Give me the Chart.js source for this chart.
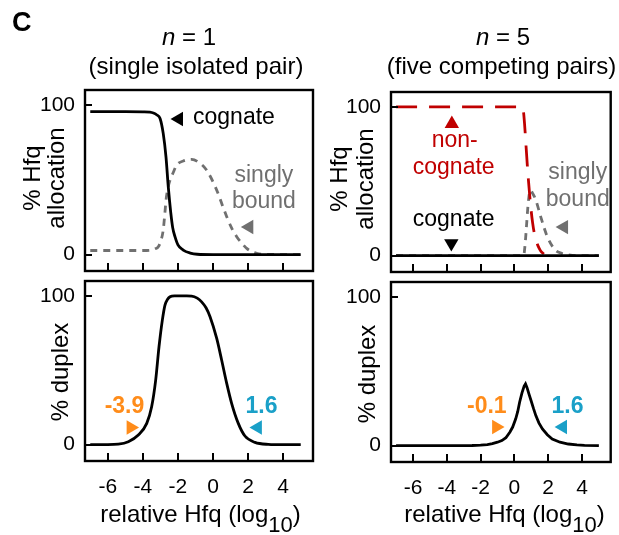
<!DOCTYPE html>
<html><head><meta charset="utf-8">
<script src="https://cdn.jsdelivr.net/npm/chart.js@4.4.0/dist/chart.umd.min.js"></script>
<style>
html,body{margin:0;padding:0;background:#fff;}
#wrap{position:relative;width:619px;height:535px;overflow:hidden;}
#wrap canvas{position:absolute;left:0;top:0;}
</style></head><body>
<div id="wrap">
<canvas id="tl" width="619" height="535"></canvas>
<canvas id="tr" width="619" height="535"></canvas>
<canvas id="bl" width="619" height="535"></canvas>
<canvas id="br" width="619" height="535"></canvas>
</div>
<script>
// ---------- tick labels ----------
const xTickValues = [-6, -4, -2, 0, 2, 4];
const yTickValues = [0, 100];

// ---------- n = 1 : % Hfq allocation ----------
const cognateX1 = [-7, -5, -4, -3.6, -3.4, -3.2, -3.02, -2.84, -2.68, -2.55, -2.41, -2.3, -2.17, -2.0, -1.7, -1.3, -0.9, 0, 2, 5];
const cognateY1 = [95.5, 95.5, 95.4, 95.2, 94.6, 93.3, 91, 81, 65, 45, 28, 18, 12, 6.5, 3, 1, 0.2, 0, 0, 0];
const singlyX1 = [-7, -5, -4, -3.5, -3.3, -3.12, -2.95, -2.84, -2.75, -2.68, -2.58, -2.45, -2.3, -2.07, -1.7, -1.22, -0.8, -0.37, 0.21, 0.5, 0.78, 1.05, 1.35, 1.65, 1.92, 2.2, 2.49, 3, 4, 5];
const singlyY1 = [2.7, 2.7, 2.7, 3.0, 3.8, 5.2, 10, 16.4, 27, 36.4, 44, 49.8, 54, 59.8, 62.5, 63.6, 61.5, 56.5, 43.1, 34, 25.3, 18, 11.9, 7.5, 4.1, 2, 0.8, 0.1, 0, 0];

// ---------- n = 5 : % Hfq allocation ----------
const nonCognateX5 = [-7, -4, -1, 0, 0.3, 0.45, 0.52, 0.6, 0.7, 0.8, 0.9, 0.99, 1.08, 1.18, 1.32, 1.47, 1.6, 1.75];
const nonCognateY5 = [100, 100, 100, 100, 100, 100, 98.5, 89, 72, 55.3, 41.5, 30.6, 22, 15, 9, 4.9, 2.5, 1.1];
const cognateX5 = [-7, 5];
const cognateY5 = [0, 0];
const singlyX5 = [-7, 0, 0.5, 0.57, 0.63, 0.7, 0.78, 0.86, 0.95, 1.05, 1.27, 1.56, 1.95, 2.42, 2.8, 3.19, 3.6, 5];
const singlyY5 = [0, 0, 0, 1, 7, 17, 30, 39.5, 44, 42.5, 37.4, 26.1, 12.7, 3.8, 1.5, 0.5, 0, 0];

// ---------- % duplex ----------
const duplexX1 = [-7, -6, -5.4, -4.83, -4.26, -3.78, -3.5, -3.27, -3.08, -2.89, -2.74, -2.6, -2.45, -2.2, -1.88, -1.5, -1.22, -0.9, -0.65, -0.4, -0.17, 0.21, 0.49, 0.78, 1.06, 1.44, 1.82, 2.39, 3.15, 4, 5];
const duplexY1 = [0, 0, 0.3, 2, 6.5, 14.3, 25.5, 43.4, 65.8, 83.7, 93.8, 97.5, 99.4, 100, 100, 100, 99.9, 98.5, 96, 92, 86, 71.4, 56.9, 41.2, 27.8, 14.3, 5.8, 1.5, 0.2, 0, 0];
const duplexX5 = [-7, -4, -2.5, -2, -1.6, -1.3, -1.0, -0.74, -0.5, -0.26, -0.1, 0.08, 0.2, 0.31, 0.45, 0.58, 0.66, 0.75, 0.87, 0.99, 1.13, 1.27, 1.45, 1.66, 1.95, 2.24, 2.7, 3.19, 3.7, 4.15, 5];
const duplexY5 = [0, 0, 0.1, 0.3, 0.7, 1.3, 2.3, 3.4, 5.3, 9.2, 12.5, 18, 23, 29.2, 35.5, 40, 41.5, 39, 34.5, 30.2, 25, 20.2, 15.3, 11.2, 7.3, 4.5, 2.3, 1.1, 0.5, 0.2, 0];

// ---------- annotation anchors (data units) ----------
const markTL_X = [-1.95, 2.06], markTL_Y = [90.6, 18.4];
const markTR_X = [-3.70, -3.73, 2.93], markTR_Y = [88.6, 8.3, 19.2];
const markBL_X = [-4.69, 2.55], markBL_Y = [11.5, 11.5];
const markBR_X = [-1.07, 2.87], markBR_Y = [12.5, 12.5];
const thresholdsBL = ['-3.9', '1.6'];
const thresholdsBR = ['-0.1', '1.6'];

// ---------- styling ----------
const FAM = "'Liberation Sans', Arial, Helvetica, sans-serif";
const W = 619, H = 535;
const BLACK = '#000000', GRAY = '#707070', RED = '#C00000', ORANGE = '#FF8C1A', BLUE = '#1AA0C8';
Chart.defaults.font.family = FAM;

const pts = (xs, ys) => xs.map((x, i) => ({x: x, y: ys[i]}));

function curve(xs, ys, color, dash, mono) {
  return {data: pts(xs, ys), borderColor: color, borderWidth: 2.8, borderDash: dash || [],
    pointRadius: 0, fill: false, cubicInterpolationMode: mono === false ? 'default' : 'monotone', tension: 0};
}
function markers(xs, ys, colors, rots) {
  return {data: pts(xs, ys), showLine: false, pointStyle: 'triangle', pointRadius: 8.3,
    pointRotation: rots, pointBackgroundColor: colors, pointBorderWidth: 0, pointBorderColor: colors};
}

function drawParts(ctx, parts, cx, y) {
  let total = 0;
  parts.forEach(p => { ctx.font = p.font; p.w = ctx.measureText(p.t).width; total += p.w; });
  let x = cx - total / 2;
  ctx.textAlign = 'left';
  parts.forEach(p => { ctx.font = p.font; ctx.fillText(p.t, x, y + (p.dy || 0)); x += p.w; });
}

const decoPlugin = {
  id: 'deco',
  afterDraw(chart, args, o) {
    const ctx = chart.ctx, a = chart.chartArea, xs = chart.scales.x, ys = chart.scales.y;
    ctx.save();
    ctx.strokeStyle = '#000'; ctx.lineWidth = 2.4;
    ctx.strokeRect(a.left, a.top, a.right - a.left, a.bottom - a.top);
    ctx.lineWidth = 2;
    ctx.beginPath();
    xs.ticks.forEach(t => { const p = Math.round(xs.getPixelForValue(t.value)); ctx.moveTo(p, a.bottom); ctx.lineTo(p, a.bottom - 8); });
    ys.ticks.forEach(t => { const p = Math.round(ys.getPixelForValue(t.value)); ctx.moveTo(a.left, p); ctx.lineTo(a.left + 7, p); });
    ctx.stroke();

    ctx.fillStyle = '#000';
    ctx.textBaseline = 'middle';
    if (o.letter) { ctx.font = 'bold 27px ' + FAM; ctx.textAlign = 'left'; ctx.fillText(o.letter.t, o.letter.x, o.letter.y); }
    (o.title || []).forEach(l => drawParts(ctx, l.parts, l.x, l.y));
    (o.yTitle || []).forEach(l => {
      ctx.save(); ctx.translate(l.x, l.y); ctx.rotate(-Math.PI / 2);
      ctx.font = '24px ' + FAM; ctx.textAlign = 'center'; ctx.fillText(l.t, 0, 0); ctx.restore();
    });
    if (o.xTitle) {
      ctx.textBaseline = 'alphabetic';
      drawParts(ctx, [
        {t: 'relative Hfq (log', font: '24px ' + FAM},
        {t: '10', font: '22px ' + FAM, dy: 10},
        {t: ')', font: '24px ' + FAM}
      ], o.xTitle.x, o.xTitle.y);
      ctx.textBaseline = 'middle';
    }
    (o.notes || []).forEach(n => {
      ctx.fillStyle = n.color;
      ctx.font = (n.bold ? 'bold ' : '') + '23px ' + FAM;
      ctx.textAlign = n.align || 'center';
      ctx.fillText(n.t, xs.getPixelForValue(n.x), ys.getPixelForValue(n.y));
    });
    ctx.restore();
  }
};

function makeChart(id, box, datasets, deco, showX) {
  return new Chart(document.getElementById(id), {
    type: 'line',
    data: {datasets: datasets},
    options: {
      responsive: false, animation: false, devicePixelRatio: 1, events: [],
      layout: {padding: {left: 0, top: box.top, right: W - box.right, bottom: 0}},
      plugins: {legend: {display: false}, tooltip: {enabled: false}, deco: deco},
      scales: {
        x: {type: 'linear', min: -7.3, max: 5.7,
          grid: {display: false, drawTicks: false}, border: {display: false},
          afterBuildTicks: s => { s.ticks = xTickValues.map(v => ({value: v})); },
          afterFit: s => { s.height = H - box.bottom; },
          ticks: {display: showX, padding: 14, color: '#000', font: {size: 21}, autoSkip: false, maxRotation: 0,
            callback: v => String(v)}},
        y: {type: 'linear', min: -11, max: 110,
          grid: {display: false, drawTicks: false}, border: {display: false},
          afterBuildTicks: s => { s.ticks = yTickValues.map(v => ({value: v})); },
          afterFit: s => { s.width = box.left; },
          ticks: {padding: 10, color: '#000', font: {size: 21}, callback: v => String(v)}}
      }
    },
    plugins: [decoPlugin]
  });
}

const italicN = t => [{t: 'n', font: 'italic 24px ' + FAM}, {t: t, font: '24px ' + FAM}];

makeChart('tl', {left: 85, top: 90, right: 313, bottom: 271}, [
  curve(cognateX1, cognateY1, BLACK),
  curve(singlyX1, singlyY1, GRAY, [7, 6]),
  markers(markTL_X, markTL_Y, [BLACK, GRAY], [-90, -90])
], {
  letter: {t: 'C', x: 12, y: 24},
  title: [{parts: italicN(' = 1'), x: 189, y: 38}, {parts: [{t: '(single isolated pair)', font: '24px ' + FAM}], x: 196, y: 67}],
  yTitle: [{t: '% Hfq', x: 33, y: 178}, {t: 'allocation', x: 57, y: 178}],
  notes: [
    {t: 'cognate', x: -1.14, y: 91.2, color: BLACK, align: 'left'},
    {t: 'singly', x: 2.9, y: 53, color: GRAY},
    {t: 'bound', x: 2.9, y: 35.5, color: GRAY}
  ]
}, false);

makeChart('tr', {left: 391, top: 92, right: 617, bottom: 272}, [
  curve(cognateX5, cognateY5, BLACK),
  curve(nonCognateX5, nonCognateY5, RED, [21, 12]),
  curve(singlyX5, singlyY5, GRAY, [7, 6]),
  markers(markTR_X, markTR_Y, [RED, BLACK, GRAY], [0, 180, -90])
], {
  title: [{parts: italicN(' = 5'), x: 503, y: 38}, {parts: [{t: '(five competing pairs)', font: '24px ' + FAM}], x: 501.5, y: 67}],
  yTitle: [{t: '% Hfq', x: 340, y: 179}, {t: 'allocation', x: 366, y: 179}],
  notes: [
    {t: 'non-', x: -3.53, y: 77, color: RED},
    {t: 'cognate', x: -3.59, y: 58.9, color: RED},
    {t: 'cognate', x: -3.59, y: 23.9, color: BLACK},
    {t: 'singly', x: 3.75, y: 55.5, color: GRAY},
    {t: 'bound', x: 3.75, y: 37.4, color: GRAY}
  ]
}, false);

makeChart('bl', {left: 85, top: 281, right: 313, bottom: 461}, [
  curve(duplexX1, duplexY1, BLACK),
  markers(markBL_X, markBL_Y, [ORANGE, BLUE], [90, -90])
], {
  yTitle: [{t: '% duplex', x: 61, y: 372}],
  xTitle: {x: 200.5, y: 522},
  notes: [
    {t: thresholdsBL[0], x: -5.05, y: 25.3, color: ORANGE, bold: true},
    {t: thresholdsBL[1], x: 2.76, y: 25.3, color: BLUE, bold: true}
  ]
}, true);

makeChart('br', {left: 391, top: 282, right: 617, bottom: 462}, [
  curve(duplexX5, duplexY5, BLACK, [], false),
  markers(markBR_X, markBR_Y, [ORANGE, BLUE], [90, -90])
], {
  yTitle: [{t: '% duplex', x: 368, y: 374}],
  xTitle: {x: 504.5, y: 522},
  notes: [
    {t: thresholdsBR[0], x: -1.63, y: 25.9, color: ORANGE, bold: true},
    {t: thresholdsBR[1], x: 3.14, y: 25.9, color: BLUE, bold: true}
  ]
}, true);
</script>
</body></html>
